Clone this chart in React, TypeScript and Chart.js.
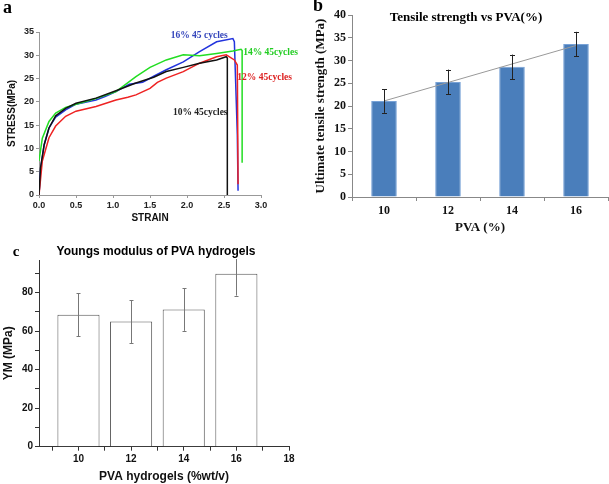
import React, { useEffect, useRef } from 'react';
import { Chart, registerables } from 'chart.js';

Chart.register(...registerables);

const SANS = "Arial, 'Liberation Sans', sans-serif";
const SERIF = "'Times New Roman', 'Liberation Serif', serif";

// ---------- Panel a: stress-strain curves ----------
const strain10 = [0, 0.02, 0.07, 0.135, 0.225, 0.36, 0.5, 0.77, 1.04, 1.3, 1.55, 1.72, 1.95, 2.17, 2.4, 2.53, 2.545, 2.545];
const stress10 = [0, 5.8, 10.8, 14.4, 17.0, 18.6, 19.7, 20.8, 22.4, 24.0, 25.3, 26.5, 27.4, 28.3, 29.0, 29.7, 29.4, 0];

const strain12 = [0, 0.045, 0.135, 0.225, 0.36, 0.5, 0.77, 1.04, 1.2, 1.31, 1.5, 1.6, 1.72, 1.95, 2.17, 2.4, 2.53, 2.64, 2.68, 2.69];
const stress12 = [0, 7.3, 12.3, 14.8, 16.9, 18.0, 19.0, 20.4, 21.0, 21.5, 22.9, 24.2, 25.1, 26.5, 28.3, 29.7, 30.1, 29.0, 27.9, 2.3];

const strain14 = [0, 0.045, 0.135, 0.225, 0.36, 0.5, 0.77, 1.04, 1.31, 1.5, 1.72, 1.95, 2.17, 2.4, 2.62, 2.73, 2.745, 2.745];
const stress14 = [7.3, 12.2, 15.8, 17.6, 18.8, 19.5, 20.7, 22.2, 25.4, 27.4, 29.0, 30.1, 29.9, 30.4, 30.9, 31.3, 31.0, 6.9];

const strain16 = [0, 0.023, 0.07, 0.135, 0.225, 0.36, 0.5, 0.77, 0.9, 1.04, 1.22, 1.4, 1.55, 1.72, 1.95, 2.17, 2.4, 2.62, 2.64, 2.68, 2.69];
const stress16 = [0, 5.8, 10.8, 14.4, 16.7, 18.3, 19.5, 20.4, 21.2, 22.2, 23.8, 24.2, 25.5, 26.9, 28.6, 30.8, 32.9, 33.6, 32.9, 13, 0.9];

const curveNames = ['10% 45cycles', '12% 45cycles', '14% 45cycles', '16% 45 cycles'];
const curveStrains = [strain10, strain12, strain14, strain16];
const curveStresses = [stress10, stress12, stress14, stress16];
// label anchor (strain, stress) for each curve's annotation
const labelStrain = [1.81, 2.68, 2.76, 1.78];
const labelStress = [17.8, 25.2, 30.6, 34.25];

// ---------- Panel b: tensile strength ----------
const pvaCategories = ['10', '12', '14', '16'];
const tensileMean = [21.1, 25.3, 28.6, 33.6];
const tensileErr = [2.6, 2.7, 2.7, 2.7];
const tensileTrend = [21.1, null, null, 33.3];

// ---------- Panel c: Young's modulus ----------
const pvaValues = [10, 12, 14, 16];
const youngsMean = [68.5, 65.0, 71.3, 89.8];
const youngsErr = [11.1, 11.1, 11.1, 11.3];

const curveColors = ['#111111', '#ee2222', '#22dd22', '#2233dd'];
const labelColors = ['#222222', '#dd2222', '#22cc22', '#3344bb'];

const errorBarPlugin = {
  id: 'errorBars',
  afterDatasetsDraw(chart: any) {
    const { ctx, chartArea } = chart;
    chart.data.datasets.forEach((ds: any, i: number) => {
      const errs = ds.errors;
      if (!errs) return;
      const meta = chart.getDatasetMeta(i);
      const yScale = chart.scales[meta.yAxisID];
      ctx.save();
      ctx.beginPath();
      ctx.rect(chartArea.left, chartArea.top - 1, chartArea.right - chartArea.left, chartArea.bottom - chartArea.top + 1);
      ctx.clip();
      ctx.strokeStyle = ds.errorColor;
      ctx.lineWidth = 1;
      meta.data.forEach((el: any, j: number) => {
        const raw = ds.data[j];
        const v = typeof raw === 'object' ? raw.y : raw;
        const yt = yScale.getPixelForValue(v + errs[j]);
        const yb = yScale.getPixelForValue(v - errs[j]);
        const x = Math.round(el.x) + 0.5;
        const cw = ds.errorCap;
        ctx.beginPath();
        ctx.moveTo(x, yt);
        ctx.lineTo(x, yb);
        ctx.moveTo(x - cw, Math.round(yt) + 0.5);
        ctx.lineTo(x + cw, Math.round(yt) + 0.5);
        ctx.moveTo(x - cw, Math.round(yb) + 0.5);
        ctx.lineTo(x + cw, Math.round(yb) + 0.5);
        ctx.stroke();
      });
      ctx.restore();
    });
  },
};

type TextItem = {
  text: string;
  x?: number;
  y?: number;
  dataX?: number;
  dataY?: number;
  font: string;
  color: string;
  align: CanvasTextAlign;
};

function makeTextPlugin(items: TextItem[]) {
  return {
    id: 'panelText',
    afterDraw(chart: any) {
      const ctx = chart.ctx;
      ctx.save();
      ctx.textBaseline = 'middle';
      items.forEach((it) => {
        let x = it.x as number;
        let y = it.y as number;
        if (it.dataX !== undefined) x = chart.scales.x.getPixelForValue(it.dataX);
        if (it.dataY !== undefined) y = chart.scales.y.getPixelForValue(it.dataY);
        ctx.font = it.font;
        ctx.fillStyle = it.color;
        ctx.textAlign = it.align;
        ctx.fillText(it.text, x, y);
      });
      ctx.restore();
    },
  };
}

function configA(): any {
  const texts: TextItem[] = curveNames.map((n, i) => ({
    text: n,
    dataX: labelStrain[i],
    dataY: labelStress[i],
    font: `bold 9.5px ${SERIF}`,
    color: labelColors[i],
    align: 'left' as CanvasTextAlign,
  }));
  texts.push({ text: 'a', x: 7.5, y: 8, font: `bold 18px ${SERIF}`, color: '#000', align: 'center' });
  const tickFont = { family: SANS, size: 9, weight: 'bold' };
  return {
    type: 'scatter',
    data: {
      datasets: curveNames.map((n, i) => ({
        label: n,
        data: curveStrains[i].map((x, j) => ({ x, y: curveStresses[i][j] })),
        showLine: true,
        borderColor: curveColors[i],
        backgroundColor: curveColors[i],
        borderWidth: 1.5,
        pointRadius: 0,
        tension: 0,
      })),
    },
    options: {
      animation: false,
      responsive: false,
      layout: { padding: { left: 0, top: 32, right: 39, bottom: 0 } },
      plugins: { legend: { display: false }, tooltip: { enabled: false } },
      scales: {
        x: {
          type: 'linear',
          min: 0,
          max: 3,
          afterFit: (s: any) => { s.height = 35; },
          ticks: { stepSize: 0.5, callback: (v: any) => Number(v).toFixed(1), font: tickFont, color: '#222', padding: 2, maxRotation: 0 },
          grid: { drawOnChartArea: false, tickLength: 3, color: '#999' },
          border: { color: '#999' },
          title: { display: true, text: 'STRAIN', font: { family: SANS, size: 10, weight: 'bold' }, color: '#111', padding: { top: 0, bottom: 6 } },
        },
        y: {
          type: 'linear',
          min: 0,
          max: 35,
          afterFit: (s: any) => { s.width = 39; },
          ticks: { stepSize: 5, font: tickFont, color: '#222', padding: 2 },
          grid: { drawOnChartArea: false, tickLength: 3, color: '#999' },
          border: { color: '#999' },
          title: { display: true, text: 'STRESS(MPa)', font: { family: SANS, size: 10, weight: 'bold' }, color: '#111', padding: { top: 6, bottom: 0 } },
        },
      },
    },
    plugins: [makeTextPlugin(texts)],
  };
}

function configB(): any {
  const texts: TextItem[] = [
    { text: 'b', x: 18, y: 6, font: `bold 18px ${SERIF}`, color: '#000', align: 'center' },
    { text: 'Tensile strength vs PVA(%)', x: 166, y: 18, font: `bold 13px ${SERIF}`, color: '#000', align: 'center' },
  ];
  const tickFont = { family: SERIF, size: 12, weight: 'bold' };
  return {
    type: 'bar',
    data: {
      labels: pvaCategories,
      datasets: [
        {
          type: 'line',
          label: 'trend',
          data: tensileTrend,
          spanGaps: true,
          borderColor: '#999999',
          borderWidth: 1,
          pointRadius: 0,
          order: 0,
        },
        {
          type: 'bar',
          label: 'UTS',
          data: tensileMean,
          backgroundColor: '#4a7ebb',
          borderColor: '#78a2d6',
          borderWidth: 1,
          barPercentage: 0.4,
          categoryPercentage: 1,
          errors: tensileErr,
          errorColor: '#222',
          errorCap: 2.5,
          order: 1,
        },
      ],
    },
    options: {
      animation: false,
      responsive: false,
      layout: { padding: { left: 0, top: 15, right: 1, bottom: 0 } },
      plugins: { legend: { display: false }, tooltip: { enabled: false } },
      scales: {
        x: {
          type: 'category',
          offset: true,
          afterFit: (s: any) => { s.height = 43; },
          ticks: { font: tickFont, color: '#111', padding: 3, maxRotation: 0, autoSkip: false },
          grid: { offset: true, drawOnChartArea: false, tickLength: 4, color: '#888' },
          border: { color: '#888' },
          title: { display: true, text: 'PVA (%)', font: { family: SERIF, size: 13, weight: 'bold' }, color: '#111', padding: { top: 0, bottom: 5 } },
        },
        y: {
          min: 0,
          max: 40,
          afterFit: (s: any) => { s.width = 52; },
          ticks: { stepSize: 5, font: tickFont, color: '#111', padding: 2 },
          grid: { drawOnChartArea: false, tickLength: 4, color: '#888' },
          border: { color: '#888' },
          title: { display: true, text: 'Ultimate tensile strength (MPa)', font: { family: SERIF, size: 13, weight: 'bold' }, color: '#111', padding: { top: 13, bottom: 0 } },
        },
      },
    },
    plugins: [errorBarPlugin, makeTextPlugin(texts)],
  };
}

function configC(): any {
  const texts: TextItem[] = [
    { text: 'c', x: 16, y: 22, font: `bold 15px ${SERIF}`, color: '#000', align: 'center' },
    { text: 'Youngs modulus of PVA hydrogels', x: 156, y: 22, font: `bold 12px ${SANS}`, color: '#000', align: 'center' },
  ];
  const tickFont = { family: SANS, size: 10, weight: 'bold' };
  return {
    type: 'bar',
    data: {
      datasets: [
        {
          label: 'YM',
          data: pvaValues.map((x, i) => ({ x, y: youngsMean[i] })),
          backgroundColor: '#ffffff',
          borderColor: '#555555',
          borderWidth: 1,
          barPercentage: 1.6,
          categoryPercentage: 1,
          errors: youngsErr,
          errorColor: '#777',
          errorCap: 2,
        },
      ],
    },
    options: {
      animation: false,
      responsive: false,
      layout: { padding: { left: 0, top: 30, right: 31, bottom: 0 } },
      plugins: { legend: { display: false }, tooltip: { enabled: false } },
      scales: {
        x: {
          type: 'linear',
          min: 8.5,
          max: 18,
          offset: false,
          afterFit: (s: any) => { s.height = 37.3; },
          ticks: {
            stepSize: 1,
            includeBounds: false,
            callback: (v: any) => (Number(v) % 2 === 0 ? String(v) : ''),
            font: tickFont,
            color: '#111',
            padding: 3,
            maxRotation: 0,
            autoSkip: false,
          },
          grid: { offset: false, drawOnChartArea: false, tickLength: 4, color: '#333' },
          border: { color: '#333' },
          title: { display: true, text: 'PVA hydrogels (%wt/v)', font: { family: SANS, size: 12, weight: 'bold' }, color: '#111', padding: { top: 0, bottom: 0 } },
        },
        y: {
          min: 0,
          max: 97,
          afterFit: (s: any) => { s.width = 39; },
          ticks: {
            stepSize: 10,
            includeBounds: false,
            callback: (v: any) => (Number(v) % 20 === 0 ? String(v) : ''),
            font: tickFont,
            color: '#111',
            padding: 2,
          },
          grid: { drawOnChartArea: false, tickLength: 4, color: '#333' },
          border: { color: '#333' },
          title: { display: true, text: 'YM (MPa)', font: { family: SANS, size: 12, weight: 'bold' }, color: '#111', padding: { top: 1, bottom: 0 } },
        },
      },
    },
    plugins: [errorBarPlugin, makeTextPlugin(texts)],
  };
}

function Panel({ left, top, width, height, make }: { left: number; top: number; width: number; height: number; make: () => any }) {
  const ref = useRef<HTMLCanvasElement>(null);
  useEffect(() => {
    const chart = new Chart(ref.current as HTMLCanvasElement, make());
    return () => chart.destroy();
  }, []);
  return (
    <canvas
      ref={ref}
      width={width}
      height={height}
      style={{ position: 'absolute', left, top, width, height }}
    />
  );
}

export default function App() {
  return (
    <div style={{ position: 'fixed', left: 0, top: 0, width: 609, height: 484, background: '#ffffff', overflow: 'hidden' }}>
      <Panel left={0} top={0} width={300} height={230} make={configA} />
      <Panel left={300} top={0} width={309} height={240} make={configB} />
      <Panel left={0} top={230} width={320} height={254} make={configC} />
    </div>
  );
}
